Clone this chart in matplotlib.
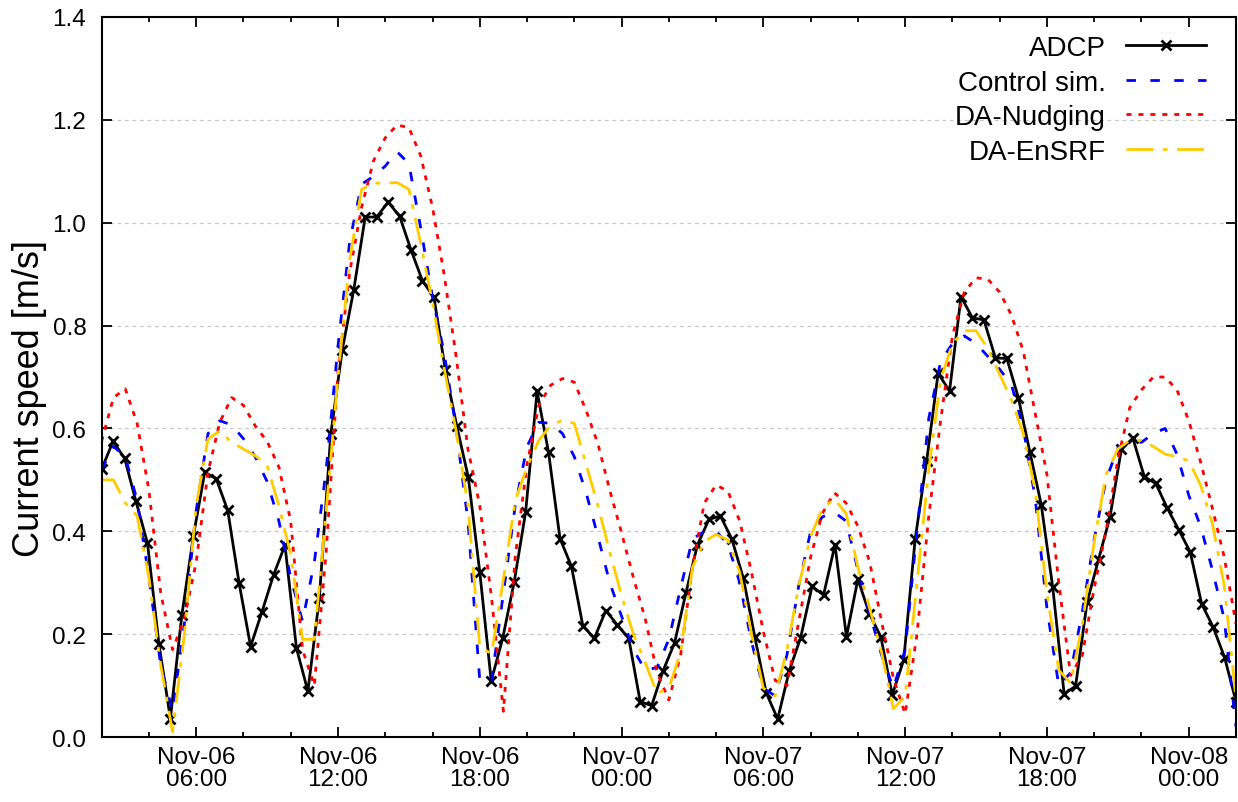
import numpy as np
import pandas as pd
import matplotlib
matplotlib.use("Agg")
import matplotlib.pyplot as plt
import matplotlib.dates as mdates
from matplotlib.ticker import MultipleLocator, FormatStrFormatter

plt.rcParams['font.family'] = ['Liberation Sans', 'DejaVu Sans']

# ADCP observations: 100 samples, Nov-06 02:00 .. Nov-08 02:00
adcp_time = pd.date_range('2019-11-06 02:00', '2019-11-08 02:00', periods=100)
adcp_speed = [
    0.521, 0.575, 0.542, 0.458, 0.377, 0.181, 0.036, 0.237, 0.390, 0.515,
    0.502, 0.441, 0.299, 0.176, 0.244, 0.315, 0.373, 0.173, 0.089, 0.270,
    0.589, 0.753, 0.869, 1.011, 1.011, 1.040, 1.013, 0.947, 0.887, 0.855,
    0.713, 0.604, 0.505, 0.321, 0.109, 0.192, 0.301, 0.437, 0.672, 0.554,
    0.386, 0.332, 0.216, 0.192, 0.246, 0.218, 0.192, 0.069, 0.061, 0.129,
    0.183, 0.281, 0.374, 0.423, 0.430, 0.385, 0.309, 0.195, 0.086, 0.035,
    0.128, 0.193, 0.293, 0.276, 0.374, 0.195, 0.307, 0.240, 0.195, 0.082,
    0.150, 0.385, 0.537, 0.707, 0.673, 0.856, 0.815, 0.811, 0.737, 0.736,
    0.660, 0.555, 0.452, 0.292, 0.084, 0.099, 0.262, 0.345, 0.428, 0.560,
    0.581, 0.506, 0.493, 0.445, 0.403, 0.360, 0.259, 0.214, 0.155, 0.069,
]

# model output every 30 min
model_time = pd.date_range('2019-11-06 02:00', '2019-11-08 02:00', freq='30min')
control_speed = [
    0.520, 0.565, 0.545, 0.460, 0.310, 0.140, 0.050, 0.220, 0.440, 0.590,
    0.615, 0.607, 0.580, 0.545, 0.497, 0.420, 0.310, 0.225, 0.340, 0.520,
    0.760, 0.965, 1.075, 1.090, 1.110, 1.138, 1.115, 0.990, 0.855, 0.745,
    0.600, 0.420, 0.110, 0.110, 0.280, 0.450, 0.565, 0.612, 0.610, 0.590,
    0.545, 0.475, 0.390, 0.300, 0.235, 0.170, 0.130, 0.135, 0.190, 0.290,
    0.385, 0.400, 0.400, 0.375, 0.300, 0.185, 0.095, 0.080, 0.160, 0.295,
    0.400, 0.428, 0.437, 0.420, 0.325, 0.240, 0.160, 0.095, 0.170, 0.400,
    0.620, 0.730, 0.765, 0.780, 0.765, 0.740, 0.715, 0.685, 0.600, 0.465,
    0.250, 0.100, 0.125, 0.245, 0.385, 0.500, 0.562, 0.573, 0.573, 0.590,
    0.600, 0.550, 0.470, 0.410, 0.325, 0.230, 0.020,
]
nudging_speed = [
    0.575, 0.660, 0.677, 0.610, 0.480, 0.280, 0.170, 0.230, 0.340, 0.515,
    0.612, 0.660, 0.645, 0.605, 0.575, 0.525, 0.420, 0.170, 0.100, 0.360,
    0.710, 0.905, 1.030, 1.120, 1.165, 1.190, 1.185, 1.130, 1.030, 0.897,
    0.740, 0.560, 0.450, 0.270, 0.050, 0.350, 0.530, 0.645, 0.684, 0.697,
    0.690, 0.635, 0.570, 0.480, 0.397, 0.310, 0.230, 0.126, 0.072, 0.160,
    0.330, 0.455, 0.490, 0.478, 0.420, 0.320, 0.205, 0.110, 0.100, 0.225,
    0.350, 0.435, 0.475, 0.455, 0.410, 0.340, 0.225, 0.115, 0.045, 0.200,
    0.430, 0.615, 0.780, 0.865, 0.893, 0.890, 0.865, 0.820, 0.750, 0.630,
    0.510, 0.300, 0.120, 0.160, 0.290, 0.400, 0.540, 0.640, 0.675, 0.700,
    0.700, 0.675, 0.615, 0.535, 0.445, 0.350, 0.220,
]
ensrf_speed = [
    0.500, 0.500, 0.455, 0.430, 0.310, 0.140, 0.010, 0.200, 0.450, 0.580,
    0.595, 0.573, 0.560, 0.547, 0.528, 0.450, 0.355, 0.190, 0.190, 0.440,
    0.700, 0.930, 1.065, 1.077, 1.077, 1.078, 1.065, 0.960, 0.845, 0.715,
    0.595, 0.450, 0.175, 0.162, 0.307, 0.460, 0.525, 0.577, 0.606, 0.616,
    0.610, 0.530, 0.450, 0.360, 0.275, 0.200, 0.145, 0.085, 0.095, 0.165,
    0.330, 0.380, 0.394, 0.383, 0.320, 0.200, 0.095, 0.080, 0.170, 0.295,
    0.390, 0.445, 0.463, 0.435, 0.330, 0.250, 0.165, 0.055, 0.080, 0.300,
    0.520, 0.695, 0.765, 0.790, 0.790, 0.755, 0.705, 0.655, 0.590, 0.480,
    0.280, 0.130, 0.105, 0.220, 0.380, 0.510, 0.560, 0.577, 0.577, 0.565,
    0.550, 0.545, 0.537, 0.490, 0.415, 0.295, 0.074,
]

fig = plt.figure(figsize=(12.38, 8.03), dpi=100)
ax = fig.add_axes([0.0821, 0.0809, 0.9163, 0.8967])

ax.plot(adcp_time, adcp_speed, color='black', lw=2.0, marker='x', ms=7.2, mew=2.0,
        label='ADCP')
ax.plot(model_time, control_speed, color='#0000ff', lw=2.0, dashes=(3.4, 5.2),
        label='Control sim.')
ax.plot(model_time, nudging_speed, color='#ff0000', lw=2.0, dashes=(1.8, 2.5),
        label='DA-Nudging')
ax.plot(model_time, ensrf_speed, color='#ffcc00', lw=2.0, dashes=(9.7, 3.4, 1.7, 3.4),
        label='DA-EnSRF')

ax.set_xlim(adcp_time[0], adcp_time[-1])
ax.set_ylim(0, 1.4)
ax.xaxis.set_major_locator(mdates.HourLocator(byhour=[0, 6, 12, 18]))
ax.xaxis.set_minor_locator(mdates.HourLocator(byhour=range(0, 24, 2)))
ax.xaxis.set_major_formatter(mdates.DateFormatter('%b-%d\n%H:%M'))
ax.yaxis.set_major_locator(MultipleLocator(0.2))
ax.yaxis.set_major_formatter(FormatStrFormatter('%.1f'))

ax.tick_params(which='both', direction='in', top=True, right=True, labelsize=17.5)
ax.tick_params(which='major', length=7.2, width=1.3)
ax.tick_params(which='minor', length=3.8, width=1.3)
ax.tick_params(axis='x', pad=6.5)
ax.tick_params(axis='y', pad=11)
for s in ax.spines.values():
    s.set_linewidth(1.5)

ax.yaxis.grid(True, color='#c8c8c8', lw=0.9, linestyle=(0, (3, 3)))
ax.set_axisbelow(True)

ax.set_ylabel('Current speed [m/s]', fontsize=26, labelpad=4)
ax.yaxis.label.set_y(0.472)

ax.legend(loc='upper right', bbox_to_anchor=(0.9736, 0.975), frameon=False,
          markerfirst=False, fontsize=20, handlelength=2.88, handletextpad=0.72,
          labelspacing=0.31, borderaxespad=0, borderpad=0)

fig.canvas.draw()
for lbl in ax.get_xticklabels():
    lbl.set_linespacing(1.0)

fig.savefig('out.png', dpi=100)
